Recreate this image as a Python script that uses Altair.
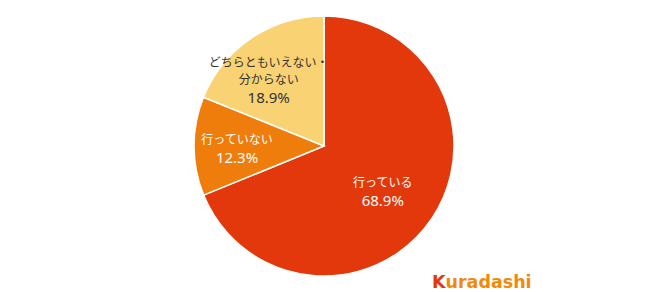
import altair as alt
import pandas as pd

categories = ["行っている", "行っていない", "どちらともいえない・分からない"]
label_lines = ["行っている", "行っていない", "どちらともいえない・\n分からない"]
values = [68.9, 12.3, 18.9]
colors = ["#E2380C", "#EE7D0B", "#F9D273"]
text_colors = ["#FFFFFF", "#FFFFFF", "#333333"]

total = sum(values)
df = pd.DataFrame({
    "category": categories,
    "name": label_lines,
    "pct": [f"{v:.1f}%" for v in values],
    "value": values,
    "order": list(range(len(categories))),
})

theta_scale = alt.Scale(domain=[0, total])
CX, CY = 324, 146

pie = alt.Chart(df).mark_arc(radius=130, stroke="white", strokeWidth=1.5).encode(
    theta=alt.Theta("value:Q", stack=True, scale=theta_scale),
    order=alt.Order("order:Q"),
    x=alt.value(CX), y=alt.value(CY),
    color=alt.Color("category:N", scale=alt.Scale(domain=categories, range=colors), legend=None),
)

def text_layer(i, field, r, dx, dy, size, font):
    return alt.Chart(df).transform_stack(
        stack="value", groupby=[], as_=["v0", "v1"], sort=[alt.SortField("order")]
    ).transform_calculate(
        mid="(datum.v0 + datum.v1) / 2"
    ).transform_filter(
        f"datum.category == '{categories[i]}'"
    ).mark_text(
        radius=r, lineBreak="\n", fontSize=size, font=font, lineHeight=17.5,
        align="center", baseline="middle", dx=dx, dy=dy, color=text_colors[i],
    ).encode(
        theta=alt.Theta("mid:Q", scale=theta_scale),
        x=alt.value(CX), y=alt.value(CY),
        text=f"{field}:N",
    )

NAME_FONT = "Noto Sans CJK JP"
PCT_FONT = "Noto Sans"
labels = [
    text_layer(0, "name", 72, -1, -3, 12, NAME_FONT),
    text_layer(0, "pct", 72, -1, 15, 15, PCT_FONT),
    text_layer(1, "name", 87, 0, -6, 12, NAME_FONT),
    text_layer(1, "pct", 87, 0, 12, 15, PCT_FONT),
    text_layer(2, "name", 90, -5, -8.5, 12, NAME_FONT),
    text_layer(2, "pct", 90, -5, 27, 15, PCT_FONT),
]

logo_k = alt.Chart(pd.DataFrame({"t": ["K"]})).mark_text(
    fontSize=17.5, fontWeight="bold", font="DejaVu Sans", align="left", baseline="alphabetic", color="#E2380C"
).encode(text="t:N", x=alt.value(432), y=alt.value(288))
logo_rest = alt.Chart(pd.DataFrame({"t": ["uradashi"]})).mark_text(
    fontSize=17.5, fontWeight="bold", font="DejaVu Sans", align="left", baseline="alphabetic", color="#F08A0C"
).encode(text="t:N", x=alt.value(445.5), y=alt.value(288))

chart = alt.layer(pie, *labels, logo_k, logo_rest).properties(
    width=650, height=292, padding=0, autosize=alt.AutoSizeParams(type="none"),
).configure_view(stroke=None)

chart.save("out.html", embed_options={"renderer": "svg", "actions": False})
